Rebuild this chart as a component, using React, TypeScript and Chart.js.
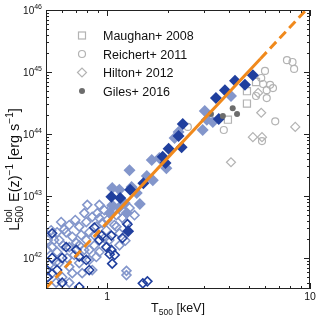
import { useEffect, useRef } from 'react';
import { Chart, registerables } from 'chart.js';

Chart.register(...registerables);

// ---------- data ----------
const fitT = [0.5, 1, 5.7, 10];
const fitL = [3.28e41, 3.72e42, 1.64e45, 1.17e46];

const darkFilledT = [5.23, 4.78, 4.27, 3.81, 3.44, 3.55, 2.36, 2.25, 2.33, 2.01, 1.88, 1.94, 1.51, 1.3, 1.05, 1.16, 1.27];
const darkFilledL = [8.9e44, 6.2e44, 7.2e44, 5.1e44, 3.8e44, 1.75e44, 1.45e44, 9.3e43, 6.1e43, 5.8e43, 4.3e43, 3.4e43, 1.6e43, 1.26e43, 9.7e42, 9.3e42, 2.7e42];

const lightFilledT = [4.08, 3.03, 3.1, 3.32, 2.96, 2.25, 2.15, 1.66, 1.81, 1.29, 1.57, 1.68, 1.4, 1.32, 1.15, 1.06, 1.06, 1.22, 1.45, 1.15, 1.03, 1.25, 1.96];
const lightFilledL = [4.1e44, 2.35e44, 1.7e44, 1.56e44, 1.16e44, 1.08e44, 8.6e43, 3.8e43, 4.1e43, 2.6e43, 2.1e43, 1.8e43, 1.12e43, 1.4e43, 1.26e43, 1.35e43, 7.1e42, 7.7e42, 7.4e42, 6.6e42, 5.3e42, 5.3e42, 2.8e43];

const darkOpenT = [0.505, 0.51, 0.536, 0.567, 0.601, 0.601, 0.629, 0.705, 0.729, 0.729, 0.79, 0.817, 0.916, 0.94, 0.992, 1.05, 1.05, 1.19, 1.03, 1.06, 1.5, 1.58, 0.536, 0.865, 1.26, 1.09];
const darkOpenL = [6.4e41, 4.9e41, 1.0e42, 6.4e41, 1.0e42, 4.0e41, 1.5e42, 1.35e42, 1.05e42, 3.4e41, 9.3e41, 6.4e41, 1.95e42, 2.3e42, 1.5e42, 1.35e42, 2.3e42, 2.1e42, 1.15e42, 8.1e41, 3.9e41, 4.2e41, 2.5e42, 3.1e42, 3.5e42, 1.12e42];

const lightOpenT = [0.505, 0.536, 0.567, 0.581, 0.581, 0.629, 0.651, 0.651, 0.674, 0.674, 0.705, 0.729, 0.729, 0.754, 0.79, 0.79, 0.817, 0.817, 0.845, 0.845, 0.885, 0.885, 0.895, 0.948, 0.992, 1.112, 1.112, 1.151, 1.19, 1.246, 0.536, 0.505, 0.601, 1.23, 1.246, 1.246, 0.615, 0.772, 0.916, 0.97, 1.003, 1.087, 0.817, 0.916, 0.561, 0.651, 0.689, 0.772, 0.865, 1.026, 0.548, 0.518, 0.608, 1.151, 0.697, 0.746, 0.916, 0.636, 1.29, 1.365, 0.561, 0.594, 0.799, 0.865, 0.97, 0.567, 0.51, 0.53, 0.729, 0.651, 1.05];
const lightOpenL = [1.35e42, 1.5e42, 1.25e42, 1.95e42, 8.3e41, 2.6e42, 1.5e42, 7.2e41, 2.2e42, 5.7e41, 1.75e42, 3.2e42, 8.3e41, 5.7e41, 3.8e42, 1.95e42, 2.6e42, 9.3e41, 4.6e42, 6.4e41, 3.2e42, 1.04e42, 5.3e42, 3.7e42, 2.8e42, 4.9e42, 3.2e42, 2.5e42, 4.4e42, 3.7e42, 5.7e41, 4.9e41, 4.9e41, 1.9e42, 6.2e41, 5.3e41, 2.9e42, 5.3e42, 7.2e42, 5.9e42, 4.1e42, 3.4e42, 1.35e42, 1.25e42, 4.0e41, 4.0e41, 1.12e42, 1.35e42, 1.6e42, 1.95e42, 1.95e42, 7.7e41, 1.6e42, 1.6e42, 4.1e42, 2.35e42, 4.4e42, 1.0e42, 6.4e42, 4.9e42, 8.6e41, 3.8e42, 7.2e42, 2.35e42, 2.1e42, 2.6e42, 1.95e42, 2.8e42, 1.6e42, 3.4e42, 6.4e42];

const maughanT = [5.42, 4.89, 4.89, 3.94];
const maughanL = [6.9e44, 4.9e44, 3.1e44, 1.7e44];

const reichertT = [7.7, 8.2, 8.35, 6.0, 5.75, 5.87, 6.36, 6.57, 6.12, 5.42, 6.12, 6.74, 5.8, 3.76, 2.5];
const reichertL = [1.55e45, 1.45e45, 1.12e45, 1.04e45, 8.0e44, 6.4e44, 6.2e44, 5.5e44, 5.1e44, 4.1e44, 3.8e44, 1.6e44, 7.7e43, 1.16e44, 1.3e44];

const hiltonHiT = [5.55, 5.75, 8.46, 5.23, 5.8, 4.08];
const hiltonHiL = [4.6e44, 2.2e44, 1.3e44, 8.9e43, 8.9e43, 3.5e43];

const gilesT = [3.25, 3.72, 4.16, 4.37];
const gilesL = [2.1e44, 1.95e44, 2.6e44, 2.1e44];

const legendLabels = ['Maughan+ 2008', 'Reichert+ 2011', 'Hilton+ 2012', 'Giles+ 2016'];

const xMin = 0.5;
const xMax = 10;
const yMin = 3.1623e41;
const yMax = 1e46;
const xTickValues = [1, 10];
const xTickLabels = ['1', '10'];
const yTickValues = [1e42, 1e43, 1e44, 1e45, 1e46];
const yTickExponents = ['42', '43', '44', '45', '46'];

// ---------- style ----------
const FONT = '"Liberation Sans", Arial, Helvetica, sans-serif';
const DARK = '#203f9e';
const LIGHT = '#8396cb';
const GRAY = '#b3b3b3';
const GILES = '#6c6c6c';
const ORANGE = '#f0891c';

const pts = (xs: number[], ys: number[]) => xs.map((x, i) => ({ x, y: ys[i] }));

type Seg = { t: string; s: number; dy: number; stack?: boolean };

function drawRich(ctx: CanvasRenderingContext2D, segs: Seg[], x: number, y: number, align: 'left' | 'center' | 'right') {
  const pos: number[] = [];
  let cursor = 0;
  let prevX = 0;
  segs.forEach((g) => {
    ctx.font = `${g.s}px ${FONT}`;
    const w = ctx.measureText(g.t).width;
    if (g.stack) {
      pos.push(prevX);
      cursor = Math.max(cursor, prevX + w);
    } else {
      pos.push(cursor);
      prevX = cursor;
      cursor += w;
    }
  });
  const off = align === 'center' ? -cursor / 2 : align === 'right' ? -cursor : 0;
  ctx.textAlign = 'left';
  ctx.textBaseline = 'alphabetic';
  segs.forEach((g, i) => {
    ctx.font = `${g.s}px ${FONT}`;
    ctx.fillText(g.t, x + off + pos[i], y + g.dy);
  });
}

const decor = {
  id: 'decor',
  afterDraw(chart: any) {
    const { ctx, chartArea: a } = chart;
    const xs = chart.scales.x;
    const ys = chart.scales.y;
    ctx.save();
    ctx.strokeStyle = '#222';
    ctx.lineWidth = 1;
    ctx.strokeRect(a.left + 0.5, a.top + 0.5, a.right - a.left - 1, a.bottom - a.top - 1);

    const tick = (vert: boolean, p: number, len: number) => {
      ctx.beginPath();
      if (vert) {
        const px = Math.round(p) + 0.5;
        ctx.moveTo(px, a.bottom);
        ctx.lineTo(px, a.bottom - len);
        ctx.moveTo(px, a.top);
        ctx.lineTo(px, a.top + len);
      } else {
        const py = Math.round(p) + 0.5;
        ctx.moveTo(a.left, py);
        ctx.lineTo(a.left + len, py);
        ctx.moveTo(a.right, py);
        ctx.lineTo(a.right - len, py);
      }
      ctx.stroke();
    };
    for (let d = 0.1; d <= 1; d *= 10) {
      for (let m = 1; m <= 9; m++) {
        const v = m * d;
        if (v < xMin - 1e-9 || v > xMax + 1e-9) continue;
        tick(true, xs.getPixelForValue(v), m === 1 ? 6 : 3);
      }
    }
    tick(true, xs.getPixelForValue(10), 6);
    for (let e = 41; e <= 45; e++) {
      for (let m = 1; m <= 9; m++) {
        const v = m * Math.pow(10, e);
        if (v < yMin || v > yMax) continue;
        tick(false, ys.getPixelForValue(v), m === 1 ? 6 : 3);
      }
    }
    tick(false, ys.getPixelForValue(1e46), 6);

    ctx.fillStyle = '#111';
    xTickValues.forEach((v, i) => {
      drawRich(ctx, [{ t: xTickLabels[i], s: 10.5, dy: 0 }], xs.getPixelForValue(v), a.bottom + 11, 'center');
    });
    yTickValues.forEach((v, i) => {
      drawRich(
        ctx,
        [
          { t: '10', s: 10, dy: 0 },
          { t: yTickExponents[i], s: 7, dy: -5 },
        ],
        a.left - 4,
        ys.getPixelForValue(v) + 4,
        'right'
      );
    });
    drawRich(
      ctx,
      [
        { t: 'T', s: 12.5, dy: 0 },
        { t: '500', s: 8.5, dy: 3 },
        { t: ' [keV]', s: 12.5, dy: 0 },
      ],
      (a.left + a.right) / 2,
      a.bottom + 23,
      'center'
    );
    ctx.save();
    ctx.translate(19, (a.top + a.bottom) / 2 + 20);
    ctx.rotate(-Math.PI / 2);
    drawRich(
      ctx,
      [
        { t: 'L', s: 14.5, dy: 0 },
        { t: '500', s: 10, dy: 3.5 },
        { t: 'bol', s: 10, dy: -7, stack: true },
        { t: ' E(z)', s: 14.5, dy: 0 },
        { t: '\u22121', s: 10, dy: -6 },
        { t: ' [erg s', s: 14.5, dy: 0 },
        { t: '\u22121', s: 10, dy: -6 },
        { t: ']', s: 14.5, dy: 0 },
      ],
      0,
      0,
      'center'
    );
    ctx.restore();

    const lx = 82;
    const ly = [35.5, 54, 72.5, 91];
    ctx.lineWidth = 1.2;
    ctx.strokeStyle = GRAY;
    ctx.strokeRect(lx - 3.5, ly[0] - 3.5, 7, 7);
    ctx.beginPath();
    ctx.arc(lx, ly[1], 3.5, 0, Math.PI * 2);
    ctx.stroke();
    ctx.beginPath();
    ctx.moveTo(lx - 4.5, ly[2]);
    ctx.lineTo(lx, ly[2] - 4.5);
    ctx.lineTo(lx + 4.5, ly[2]);
    ctx.lineTo(lx, ly[2] + 4.5);
    ctx.closePath();
    ctx.stroke();
    ctx.fillStyle = GILES;
    ctx.beginPath();
    ctx.arc(lx, ly[3], 3, 0, Math.PI * 2);
    ctx.fill();
    ctx.fillStyle = '#111';
    legendLabels.forEach((t, i) => {
      drawRich(ctx, [{ t, s: 12.5, dy: 0 }], 103, ly[i] + 4.5, 'left');
    });
    ctx.restore();
  },
};

export default function App() {
  const ref = useRef<HTMLCanvasElement>(null);
  useEffect(() => {
    const lineDs = (i: number, dash: number[]) => ({
      data: pts(fitT.slice(i, i + 2), fitL.slice(i, i + 2)),
      showLine: true,
      borderColor: ORANGE,
      borderWidth: 3,
      borderDash: dash,
      borderCapStyle: 'butt',
      pointRadius: 0,
      fill: false,
      clip: 0,
    });
    const pointDs = (xs: number[], ys: number[], style: string, r: number, fill: string, stroke: string, bw: number) => ({
      data: pts(xs, ys),
      pointStyle: style,
      pointRadius: r,
      pointHoverRadius: r,
      backgroundColor: fill,
      borderColor: stroke,
      pointBackgroundColor: fill,
      pointBorderColor: stroke,
      pointBorderWidth: bw,
      borderWidth: bw,
      showLine: false,
      clip: 0,
    });
    const chart = new Chart(ref.current as HTMLCanvasElement, {
      type: 'scatter',
      data: {
        datasets: [
          lineDs(0, [9, 5]),
          lineDs(1, []),
          lineDs(2, [9, 5]),
          pointDs(gilesT, gilesL, 'circle', 3, GILES, GILES, 0),
          pointDs(darkFilledT, darkFilledL, 'rectRot', 6, DARK, DARK, 0),
          pointDs(lightFilledT, lightFilledL, 'rectRot', 6, LIGHT, LIGHT, 0),
          pointDs(darkOpenT, darkOpenL, 'rectRot', 4.5, 'rgba(0,0,0,0)', DARK, 1.6),
          pointDs(lightOpenT, lightOpenL, 'rectRot', 4.5, 'rgba(0,0,0,0)', LIGHT, 1.6),
          pointDs(maughanT, maughanL, 'rect', 5, 'rgba(0,0,0,0)', GRAY, 1.2),
          pointDs(reichertT, reichertL, 'circle', 3.5, 'rgba(0,0,0,0)', GRAY, 1.2),
          pointDs(hiltonHiT, hiltonHiL, 'rectRot', 4.5, 'rgba(0,0,0,0)', GRAY, 1.2),
        ] as any,
      },
      options: {
        animation: false,
        responsive: false,
        devicePixelRatio: 1,
        layout: { padding: { left: 46, right: 14, top: 10, bottom: 35 } },
        plugins: { legend: { display: false }, tooltip: { enabled: false } },
        events: [],
        scales: {
          x: { type: 'logarithmic', min: xMin, max: xMax, display: false },
          y: { type: 'logarithmic', min: yMin, max: yMax, display: false },
        },
      } as any,
      plugins: [decor],
    });
    return () => chart.destroy();
  }, []);
  return (
    <div style={{ position: 'fixed', left: 0, top: 0, width: 324, height: 324, background: '#fff' }}>
      <canvas ref={ref} width={324} height={324} style={{ display: 'block', width: 324, height: 324 }} />
    </div>
  );
}
